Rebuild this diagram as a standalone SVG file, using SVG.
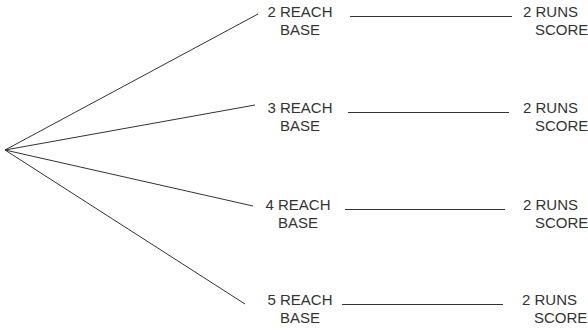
<svg xmlns="http://www.w3.org/2000/svg" width="588" height="329" viewBox="0 0 588 329">
<style>
text{font-family:"Liberation Sans",Arial,sans-serif;font-size:15px;fill:#333}
.l{stroke:#333;stroke-width:1;fill:none}
.c{text-anchor:middle}
</style>
<rect width="588" height="329" fill="#fff"/>
<g id="connectors">
<line class="l" x1="5" y1="150" x2="258" y2="14"/>
<line class="l" x1="5" y1="150" x2="255" y2="105"/>
<line class="l" x1="5" y1="150" x2="253" y2="206"/>
<line class="l" x1="5" y1="150" x2="245" y2="304"/>
<line class="l" x1="350" y1="16.5" x2="512" y2="16.5"/>
<line class="l" x1="348" y1="112.5" x2="509" y2="112.5"/>
<line class="l" x1="345" y1="209.5" x2="505" y2="209.5"/>
<line class="l" x1="342" y1="304.5" x2="503" y2="304.5"/>
</g>
<g id="r1"><text class="c" x="300" y="17">2 REACH</text><text class="c" x="300" y="35">BASE</text></g>
<g id="r2"><text class="c" x="300" y="113">3 REACH</text><text class="c" x="300" y="131">BASE</text></g>
<g id="r3"><text class="c" x="298" y="210">4 REACH</text><text class="c" x="298" y="228">BASE</text></g>
<g id="r4"><text class="c" x="300" y="305">5 REACH</text><text class="c" x="300" y="323">BASE</text></g>
<g id="s1"><text x="523" y="17">2 RUNS</text><text x="535" y="35">SCORE</text></g>
<g id="s2"><text x="523" y="113">2 RUNS</text><text x="535" y="131">SCORE</text></g>
<g id="s3"><text x="523" y="210">2 RUNS</text><text x="535" y="228">SCORE</text></g>
<g id="s4"><text x="522" y="305">2 RUNS</text><text x="534" y="323">SCORE</text></g>
</svg>
